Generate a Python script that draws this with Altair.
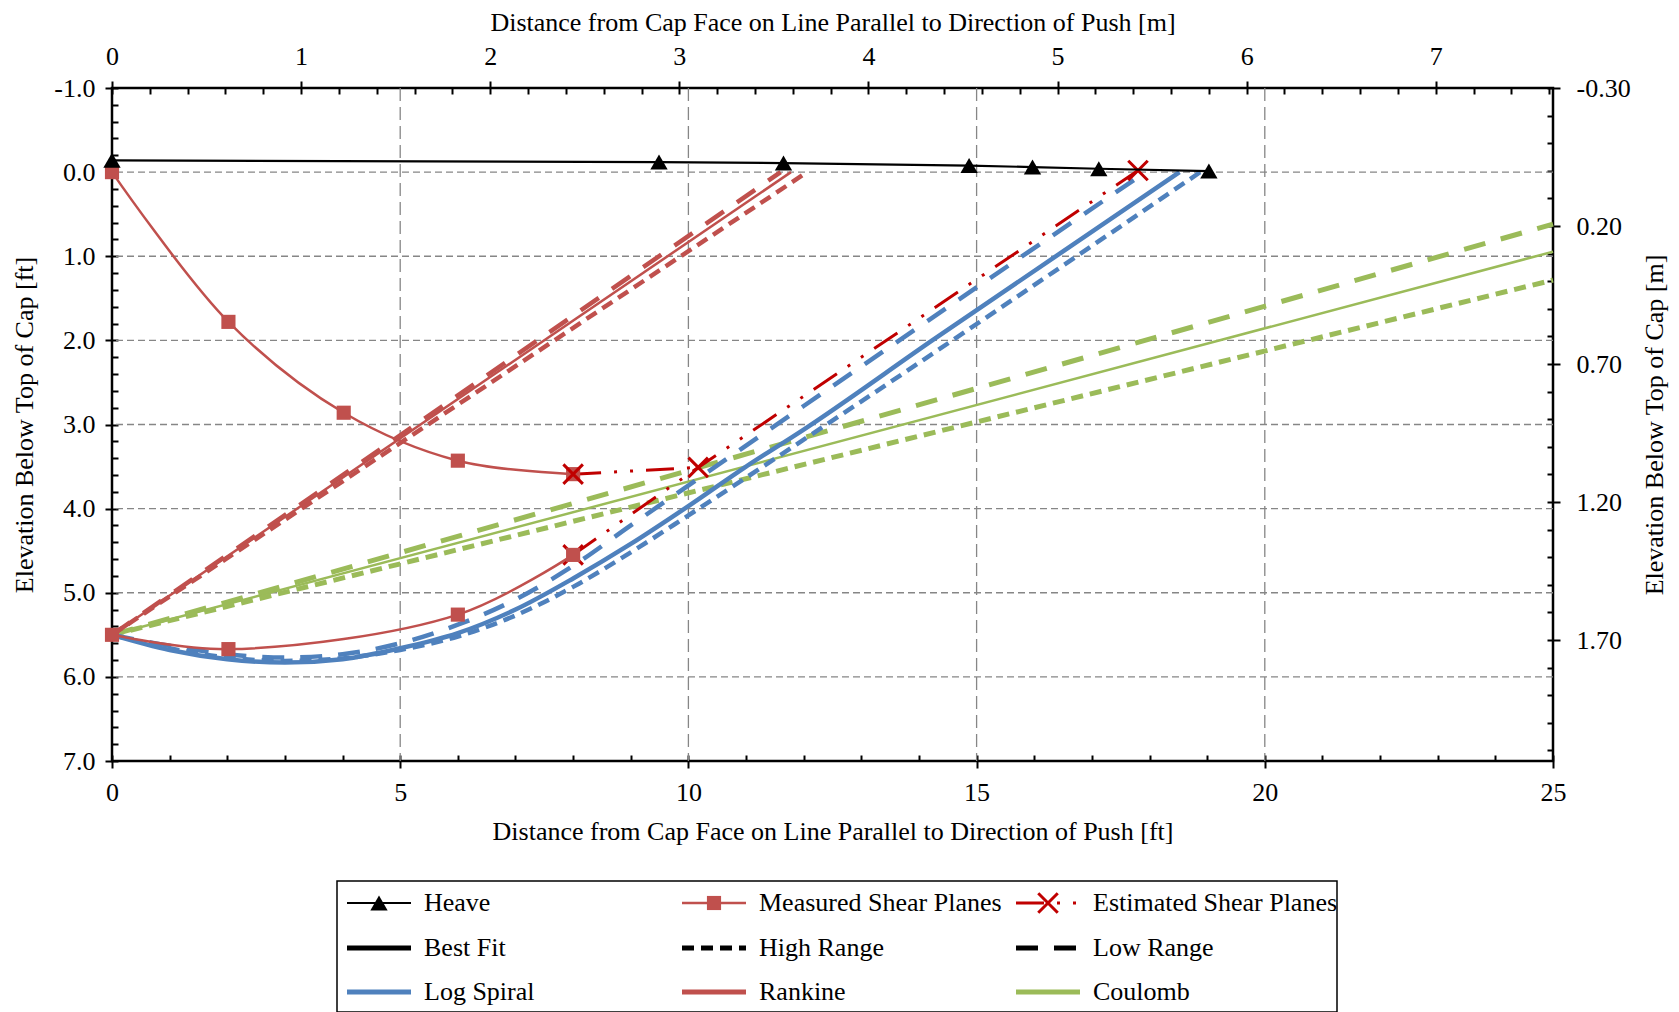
import altair as alt
import pandas as pd

# ---------------- data ----------------
heave_x = [0.0, 9.49, 11.65, 14.87, 15.97, 17.12, 19.03]
heave_y = [-0.14, -0.12, -0.107, -0.078, -0.06, -0.04, -0.013]

meas_upper_x = [0.0, 2.02, 4.02, 6.0, 8.0]
meas_upper_y = [0.0, 1.78, 2.86, 3.43, 3.59]
meas_lower_x = [0.0, 2.02, 6.0, 8.0]
meas_lower_y = [5.5, 5.67, 5.26, 4.55]

est_upper_x = [8.0, 10.17]
est_upper_y = [3.59, 3.51]
est_lower_x = [8.0, 10.17, 17.8]
est_lower_y = [4.55, 3.51, -0.02]
est_marker_x = [8.0, 10.17, 17.8]
est_marker_y = [3.59, 3.51, -0.02]
est_marker_under_x = [8.0]
est_marker_under_y = [4.55]

logsp_best_x = [0, 1, 2, 3, 4, 5, 6, 7, 8, 9, 10, 11, 12, 14.23, 18.52]
logsp_best_y = [5.5, 5.68, 5.79, 5.83, 5.79, 5.66, 5.48, 5.20, 4.83, 4.42, 3.97, 3.50, 3.06, 2.0, 0.0]
logsp_low_x = [0, 1, 2, 3, 4, 5, 6, 7, 8, 9, 12, 17.93]
logsp_low_y = [5.5, 5.63, 5.73, 5.77, 5.73, 5.60, 5.38, 5.08, 4.68, 4.20, 2.78, 0.0]
logsp_high_x = [0, 1, 2, 3, 4, 5, 6, 7, 8, 9, 10, 12, 18.88]
logsp_high_y = [5.5, 5.66, 5.77, 5.81, 5.78, 5.68, 5.52, 5.27, 4.93, 4.52, 4.08, 3.18, 0.0]

rankine_best_x = [0.0, 11.78]
rankine_low_x = [0.0, 11.60]
rankine_high_x = [0.0, 12.06]
rankine_y = [5.5, 0.0]

coulomb_x = [0.0, 25.0]
coulomb_best_y = [5.5, 0.946]
coulomb_low_y = [5.5, 0.618]
coulomb_high_y = [5.5, 1.283]

grid_x = [5, 10, 15, 20]
grid_y = [0, 1, 2, 3, 4, 5, 6]

ft_x_ticks = [0, 5, 10, 15, 20, 25]
ft_y_ticks = [-1, 0, 1, 2, 3, 4, 5, 6, 7]
m_x_ticks = [0, 1, 2, 3, 4, 5, 6, 7]

legend_labels = ["Heave", "Measured Shear Planes", "Estimated Shear Planes",
                 "Best Fit", "High Range", "Low Range",
                 "Log Spiral", "Rankine", "Coulomb"]

FT2M = 0.3048

# ---------------- styles ----------------
FONT = "Liberation Serif"
FS = 26
BLUE = "#4F81BD"
RED = "#C0504D"
DRED = "#C00000"
GREEN = "#9BBB59"
GRID = "#868686"
LONG = [22, 16]
SHORT = [12, 7]
DASHDOT = [28, 13, 3, 13, 3, 13]
XPATH = "M-1,-1L1,1M-1,1L1,-1"

X_FT = alt.Scale(domain=[0, 25], nice=False, zero=False)
Y_FT = alt.Scale(domain=[-1, 7], reverse=True, nice=False, zero=False)
X_M = alt.Scale(domain=[0, 25 * FT2M], nice=False, zero=False)
Y_M = alt.Scale(domain=[-1 * FT2M, 7 * FT2M], reverse=True, nice=False, zero=False)

NEG_LABEL = "(datum.value < 0 ? '-' : '') + format(abs(datum.value), '{f}')"


def line_layer(xs, ys, color, width, dash=None, interp="linear"):
    df = pd.DataFrame({"x": xs, "y": ys, "o": list(range(len(xs)))})
    kw = dict(color=color, strokeWidth=width, interpolate=interp)
    if dash:
        kw["strokeDash"] = dash
    return alt.Chart(df).mark_line(**kw).encode(
        x=alt.X("x:Q", scale=X_FT, axis=None),
        y=alt.Y("y:Q", scale=Y_FT, axis=None),
        order="o:Q",
    )


def point_layer(xs, ys, **kw):
    df = pd.DataFrame({"x": xs, "y": ys})
    return alt.Chart(df).mark_point(opacity=1, **kw).encode(
        x=alt.X("x:Q", scale=X_FT, axis=None),
        y=alt.Y("y:Q", scale=Y_FT, axis=None),
    )


layers = []
# gridlines
layers.append(alt.Chart(pd.DataFrame({"g": grid_x})).mark_rule(
    color=GRID, strokeWidth=1.3, strokeDash=[13, 6]).encode(
    x=alt.X("g:Q", scale=X_FT, axis=None)))
layers.append(alt.Chart(pd.DataFrame({"g": grid_y})).mark_rule(
    color=GRID, strokeWidth=1.3, strokeDash=[7, 4]).encode(
    y=alt.Y("g:Q", scale=Y_FT, axis=None)))

# Coulomb
layers.append(line_layer(coulomb_x, coulomb_best_y, GREEN, 2.5))
layers.append(line_layer(coulomb_x, coulomb_low_y, GREEN, 5, LONG))
layers.append(line_layer(coulomb_x, coulomb_high_y, GREEN, 5, SHORT))
# Rankine
layers.append(line_layer(rankine_best_x, rankine_y, RED, 2.5))
layers.append(line_layer(rankine_low_x, rankine_y, RED, 4.5, LONG))
layers.append(line_layer(rankine_high_x, rankine_y, RED, 4.5, SHORT))
# Log spiral
layers.append(line_layer(logsp_low_x, logsp_low_y, BLUE, 4.5, LONG, "monotone"))
layers.append(line_layer(logsp_high_x, logsp_high_y, BLUE, 4.5, SHORT, "monotone"))
layers.append(line_layer(logsp_best_x, logsp_best_y, BLUE, 4.5, None, "monotone"))
# Estimated shear planes
layers.append(line_layer(est_upper_x, est_upper_y, DRED, 3, DASHDOT))
layers.append(line_layer(est_lower_x, est_lower_y, DRED, 3, DASHDOT))
layers.append(point_layer(est_marker_under_x, est_marker_under_y, shape=XPATH, size=380,
                          filled=False, stroke=DRED, strokeWidth=3))
# Measured shear planes
layers.append(line_layer(meas_upper_x, meas_upper_y, RED, 2.5, None, "catmull-rom"))
layers.append(line_layer(meas_lower_x, meas_lower_y, RED, 2.5, None, "catmull-rom"))
layers.append(point_layer(meas_upper_x, meas_upper_y, shape="square", size=200,
                          filled=True, color=RED))
layers.append(point_layer(meas_lower_x, meas_lower_y, shape="square", size=200,
                          filled=True, color=RED))
layers.append(point_layer(est_marker_x, est_marker_y, shape=XPATH, size=380,
                          filled=False, stroke=DRED, strokeWidth=3))
# Heave
layers.append(line_layer(heave_x, heave_y, "black", 2.2))
layers.append(point_layer(heave_x, heave_y, shape="triangle-up", size=300,
                          filled=True, color="black"))

# ---------------- axes (ft: bottom/left, m: top/right) ----------------
dummy = pd.DataFrame({"a": [0.0], "b": [0.0]})
common = dict(domain=False, grid=False, tickColor="black", tickWidth=2,
              labelFlush=False, labelOverlap=False)

ft_axes = alt.Chart(dummy).mark_point(opacity=0).encode(
    x=alt.X("a:Q", scale=X_FT, axis=alt.Axis(
        orient="bottom", values=ft_x_ticks, format="d", tickSize=7, labelPadding=11,
        title="Distance from Cap Face on Line Parallel to Direction of Push [ft]",
        titlePadding=13, **common)),
    y=alt.Y("b:Q", scale=Y_FT, axis=alt.Axis(
        orient="left", values=ft_y_ticks, labelExpr=NEG_LABEL.replace("{f}", ".1f"),
        tickSize=7, labelPadding=10, title="Elevation Below Top of Cap [ft]",
        titlePadding=16, **common)),
)
ft_minor = alt.Chart(dummy).mark_point(opacity=0).encode(
    x=alt.X("a:Q", scale=X_FT, axis=alt.Axis(
        orient="bottom", values=list(range(0, 26)), tickSize=6, offset=-6,
        labels=False, title=None, **common)),
    y=alt.Y("b:Q", scale=Y_FT, axis=alt.Axis(
        orient="left", values=[-1 + 0.2 * k for k in range(41)], tickSize=6, offset=-6,
        labels=False, title=None, **common)),
)
m_axes = alt.Chart(dummy).mark_point(opacity=0).encode(
    x=alt.X("a:Q", scale=X_M, axis=alt.Axis(
        orient="top", values=m_x_ticks, format="d", tickSize=7, labelPadding=12,
        title="Distance from Cap Face on Line Parallel to Direction of Push [m]",
        titlePadding=8, **common)),
    y=alt.Y("b:Q", scale=Y_M, axis=alt.Axis(
        orient="right", values=[-FT2M + 0.5 * k for k in range(5)],
        labelExpr=NEG_LABEL.replace("{f}", ".2f"), tickSize=7, labelPadding=16,
        title="Elevation Below Top of Cap [m]", titleAngle=270, titleBaseline="top",
        titlePadding=11, **common)),
)
m_minor = alt.Chart(dummy).mark_point(opacity=0).encode(
    x=alt.X("a:Q", scale=X_M, axis=alt.Axis(
        orient="top", values=[0.2 * k for k in range(39)], tickSize=6, offset=-6,
        labels=False, title=None, **common)),
    y=alt.Y("b:Q", scale=Y_M, axis=alt.Axis(
        orient="right", values=[-FT2M + 0.1 * k for k in range(25)], tickSize=6, offset=-6,
        labels=False, title=None, **common)),
)
layers += [ft_axes, ft_minor, m_axes, m_minor]

main = alt.layer(*layers).resolve_scale(x="independent", y="independent").properties(
    width=1441, height=673,
    view=alt.ViewBackground(stroke="black", strokeWidth=2.5),
)

# ---------------- legend ----------------
one = pd.DataFrame({"k": [0]})
BOX_X = 225
BOX_W = 1000
BOX_H = 131
col_x = [BOX_X + 10, BOX_X + 345, BOX_X + 679]
row_y = [22, 67, 111]
SAMPLE = 64
TEXT_DX = 77
leg_styles = {
    "Heave": dict(color="black", strokeWidth=2.2),
    "Measured Shear Planes": dict(color=RED, strokeWidth=2.5),
    "Estimated Shear Planes": dict(color=DRED, strokeWidth=3, strokeDash=DASHDOT),
    "Best Fit": dict(color="black", strokeWidth=5),
    "High Range": dict(color="black", strokeWidth=5, strokeDash=SHORT),
    "Low Range": dict(color="black", strokeWidth=5, strokeDash=LONG),
    "Log Spiral": dict(color=BLUE, strokeWidth=5),
    "Rankine": dict(color=RED, strokeWidth=5),
    "Coulomb": dict(color=GREEN, strokeWidth=5),
}
leg_markers = {
    "Heave": dict(shape="triangle-up", size=300, filled=True, color="black"),
    "Measured Shear Planes": dict(shape="square", size=200, filled=True, color=RED),
    "Estimated Shear Planes": dict(shape=XPATH, size=380, filled=False, stroke=DRED, strokeWidth=3),
}
leg_layers = [alt.Chart(one).mark_rect(filled=False, stroke="black", strokeWidth=1.5).encode(
    x=alt.value(BOX_X), x2=alt.value(BOX_X + BOX_W), y=alt.value(0), y2=alt.value(BOX_H))]
for i, lab in enumerate(legend_labels):
    c, r = i % 3, i // 3
    x0, y0 = col_x[c], row_y[r]
    leg_layers.append(alt.Chart(one).mark_rule(**leg_styles[lab]).encode(
        x=alt.value(x0), x2=alt.value(x0 + SAMPLE), y=alt.value(y0)))
    if lab in leg_markers:
        leg_layers.append(alt.Chart(one).mark_point(opacity=1, **leg_markers[lab]).encode(
            x=alt.value(x0 + SAMPLE / 2), y=alt.value(y0)))
    leg_layers.append(alt.Chart(one).mark_text(
        align="left", baseline="middle", font=FONT, fontSize=FS, color="black").encode(
        x=alt.value(x0 + TEXT_DX), y=alt.value(y0), text=alt.value(lab)))

legend = alt.layer(*leg_layers).properties(
    width=BOX_X + BOX_W, height=BOX_H,
    view=alt.ViewBackground(stroke="transparent"),
)

chart = alt.vconcat(main, legend, spacing=33).configure(
    font=FONT, padding={"left": 2, "top": -1, "right": 0, "bottom": 0},
).configure_axis(
    labelFont=FONT, titleFont=FONT, labelFontSize=FS, titleFontSize=FS,
    titleFontWeight="normal", labelColor="black", titleColor="black",
)

chart.save("out.html", embed_options={"renderer": "svg", "actions": False})
